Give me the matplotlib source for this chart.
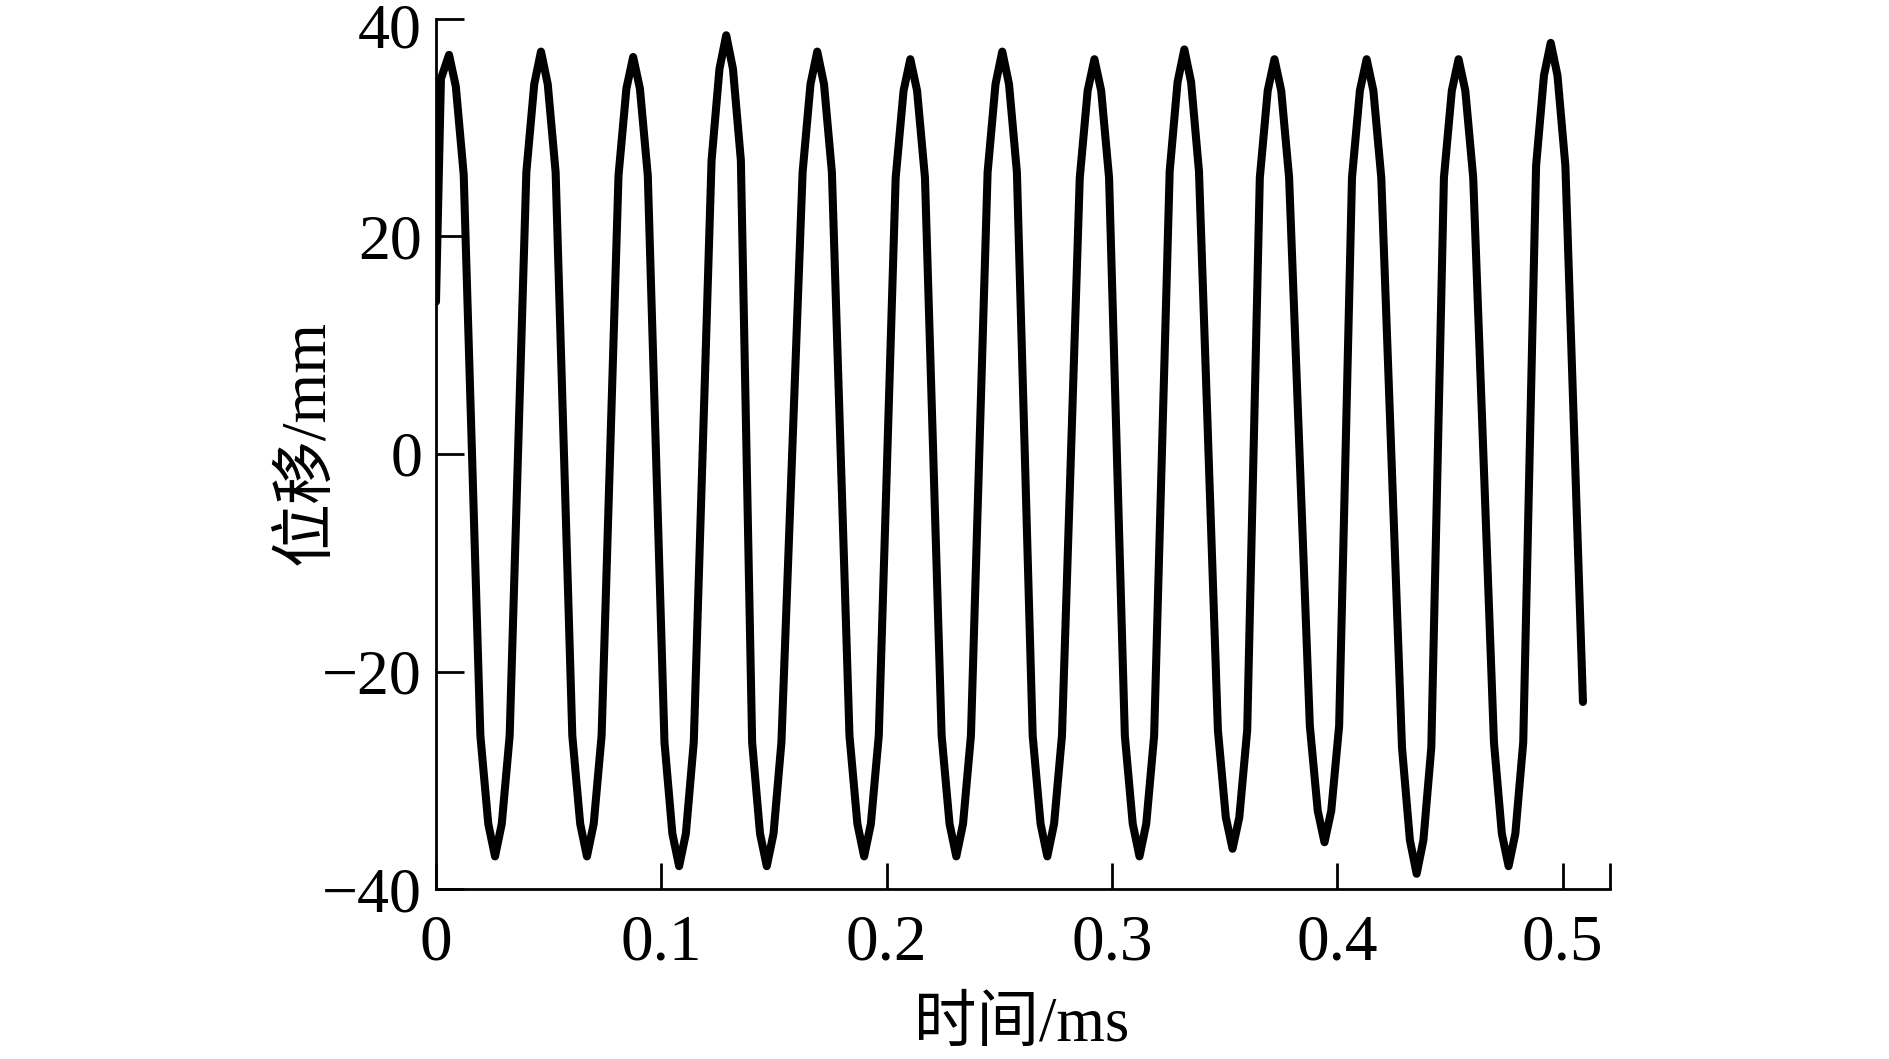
import numpy as np
import matplotlib
matplotlib.use('Agg')
import matplotlib.pyplot as plt
import matplotlib.transforms as mtransforms

plt.rcParams['font.family'] = ['Liberation Serif', 'Noto Sans CJK SC', 'DejaVu Sans']

t = [0.0, 0.0022, 0.0058, 0.0088, 0.0123,
     0.0197, 0.0232, 0.0262, 0.0292, 0.0327,
     0.0401, 0.0436, 0.0466, 0.0496, 0.0531,
     0.0605, 0.0640, 0.0670, 0.0700, 0.0735,
     0.0810, 0.0845, 0.0875, 0.0905, 0.0940,
     0.1014, 0.1049, 0.1079, 0.1109, 0.1144,
     0.1223, 0.1258, 0.1288, 0.1318, 0.1353,
     0.1403, 0.1438, 0.1468, 0.1498, 0.1533,
     0.1627, 0.1662, 0.1692, 0.1722, 0.1757,
     0.1835, 0.1870, 0.1900, 0.1930, 0.1965,
     0.2040, 0.2075, 0.2105, 0.2135, 0.2170,
     0.2244, 0.2279, 0.2309, 0.2339, 0.2374,
     0.2448, 0.2483, 0.2513, 0.2543, 0.2578,
     0.2648, 0.2683, 0.2713, 0.2743, 0.2778,
     0.2857, 0.2892, 0.2922, 0.2952, 0.2987,
     0.3057, 0.3092, 0.3122, 0.3152, 0.3187,
     0.3256, 0.3291, 0.3321, 0.3351, 0.3386,
     0.3470, 0.3505, 0.3535, 0.3565, 0.3600,
     0.3656, 0.3691, 0.3721, 0.3751, 0.3786,
     0.3878, 0.3913, 0.3943, 0.3973, 0.4008,
     0.4065, 0.4100, 0.4130, 0.4160, 0.4195,
     0.4287, 0.4322, 0.4352, 0.4382, 0.4417,
     0.4473, 0.4508, 0.4538, 0.4568, 0.4603,
     0.4695, 0.4730, 0.4760, 0.4790, 0.4825,
     0.4882, 0.4917, 0.4947, 0.4977, 0.5012,
     0.5090]
disp = [14.0, 34.5, 36.7, 33.8, 25.7,
        -25.9, -34.0, -37.0, -34.0, -25.9,
        25.9, 34.0, 37.0, 34.0, 25.9,
        -25.9, -34.0, -37.0, -34.0, -25.9,
        25.6, 33.6, 36.5, 33.6, 25.6,
        -26.5, -34.9, -37.9, -34.9, -26.5,
        27.0, 35.4, 38.5, 35.4, 27.0,
        -26.5, -34.9, -37.9, -34.9, -26.5,
        25.9, 34.0, 37.0, 34.0, 25.9,
        -25.9, -34.0, -37.0, -34.0, -25.9,
        25.4, 33.4, 36.3, 33.4, 25.4,
        -25.9, -34.0, -37.0, -34.0, -25.9,
        25.9, 34.0, 37.0, 34.0, 25.9,
        -25.9, -34.0, -37.0, -34.0, -25.9,
        25.4, 33.4, 36.3, 33.4, 25.4,
        -25.9, -34.0, -37.0, -34.0, -25.9,
        26.0, 34.2, 37.2, 34.2, 26.0,
        -25.4, -33.4, -36.3, -33.4, -25.4,
        25.4, 33.4, 36.3, 33.4, 25.4,
        -25.0, -32.8, -35.7, -32.8, -25.0,
        25.4, 33.4, 36.3, 33.4, 25.4,
        -27.0, -35.5, -38.6, -35.5, -27.0,
        25.4, 33.4, 36.3, 33.4, 25.4,
        -26.5, -34.9, -37.9, -34.9, -26.5,
        26.5, 34.8, 37.8, 34.8, 26.5,
        -22.8]

xticks = [0, 0.1, 0.2, 0.3, 0.4, 0.5]
xticklabels = ['0', '0.1', '0.2', '0.3', '0.4', '0.5']
yticks = [-40, -20, 0, 20, 40]

fig = plt.figure(figsize=(18.89, 10.59), dpi=100)
ax = fig.add_axes([0.2308, 0.1605, 0.6215, 0.8216])

ax.plot(t, disp, color='black', linewidth=5.8, solid_joinstyle='round', solid_capstyle='round')

xmax = 0.521
ax.set_xlim(0, xmax)
ax.set_ylim(-40, 40)
ax.set_xticks(xticks + [xmax])
ax.set_xticklabels(xticklabels + [''])
ax.set_yticks(yticks)
ax.set_yticklabels([str(v).replace('-', '\u2212') for v in yticks])

ax.spines['top'].set_visible(False)
ax.spines['right'].set_visible(False)
ax.spines['left'].set_linewidth(2)
ax.spines['bottom'].set_linewidth(2)
ax.spines['left'].set_capstyle('projecting')
ax.spines['bottom'].set_capstyle('projecting')

ax.tick_params(axis='x', direction='in', length=19, width=2, pad=18, labelsize=47)
ax.tick_params(axis='y', direction='in', length=20, width=2, pad=10, labelsize=46)

# nudge the top "40" a little down so it stays inside the figure
top_lab = ax.get_yticklabels()[-1]
top_lab.set_transform(top_lab.get_transform() +
                      mtransforms.ScaledTranslation(0, -5 / 72, fig.dpi_scale_trans))

ax.set_xlabel('时间/ms', fontsize=45)
ax.set_ylabel('位移/mm', fontsize=46)
ax.xaxis.set_label_coords(0.499, -0.124)
ax.yaxis.set_label_coords(-0.084, 0.513)

fig.savefig('out.png', dpi=100)
